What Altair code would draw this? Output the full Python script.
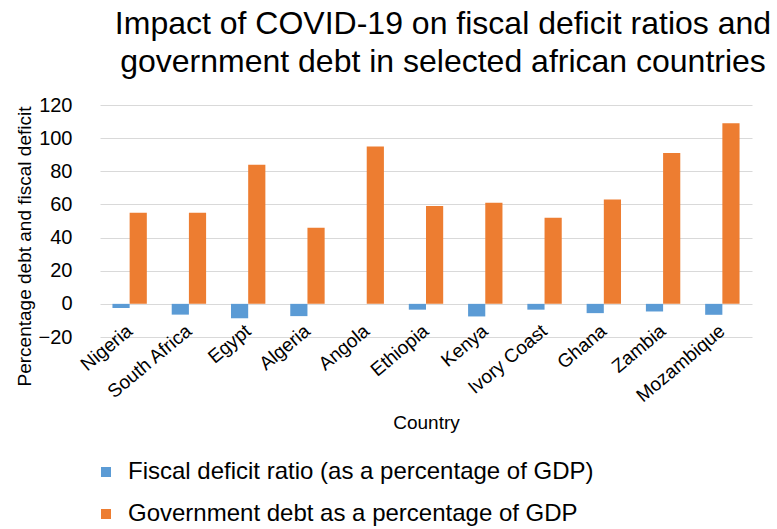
import altair as alt
import pandas as pd

countries = ["Nigeria", "South Africa", "Egypt", "Algeria", "Angola", "Ethiopia",
             "Kenya", "Ivory Coast", "Ghana", "Zambia", "Mozambique"]
fiscal_deficit = [-2.5, -6.5, -8.7, -7.4, 0, -3.5, -7.6, -3.5, -5.6, -4.6, -6.6]
government_debt = [55, 55, 84, 46, 95, 59, 61, 52, 63, 91, 109]

series_names = ["Fiscal deficit ratio (as a percentage of GDP)",
                "Government debt as a percentage of GDP"]
colors = ["#5B9BD5", "#ED7D31"]

rows = []
for i, c in enumerate(countries):
    rows.append({"Country": c, "Series": series_names[0], "Value": fiscal_deficit[i]})
    rows.append({"Country": c, "Series": series_names[1], "Value": government_debt[i]})
df = pd.DataFrame(rows)

font = "Liberation Sans"

chart = alt.Chart(df).mark_bar().encode(
    x=alt.X("Country:N", sort=countries,
            scale=alt.Scale(paddingInner=0.42, paddingOuter=0.21),
            axis=alt.Axis(title="Country", labelAngle=-40, labelFontSize=19,
                          labelFont=font, titleFont=font, titleFontSize=19,
                          titleFontWeight="normal", titleColor="#000", labelColor="#000",
                          ticks=False, domain=False, labelPadding=-9, labelBaseline="middle",
                          labelAlign="right", titleY=76)),
    xOffset=alt.XOffset("Series:N", sort=series_names),
    y=alt.Y("Value:Q", scale=alt.Scale(domain=[-20, 120], nice=False),
            axis=alt.Axis(title="Percentage debt and fiscal deficit", values=list(range(-20, 121, 20)),
                          labelFontSize=20, labelFont=font, labelColor="#000",
                          titleFont=font, titleFontSize=19, titleFontWeight="normal",
                          titleColor="#000", ticks=False, domain=False, labelPadding=28,
                          gridColor="#d9d9d9", titleX=-66, titleY=141)),
    color=alt.Color("Series:N", sort=series_names,
                    scale=alt.Scale(domain=series_names, range=colors),
                    legend=alt.Legend(title=None, orient="none", legendX=-6, legendY=355,
                                      direction="vertical", symbolType="square",
                                      symbolSize=100, labelFontSize=24, labelFont=font,
                                      labelColor="#000", rowPadding=18, labelOffset=10,
                                      labelLimit=0)),
).properties(
    width=652, height=232,
    title=alt.TitleParams(text=["Impact of COVID-19 on fiscal deficit ratios and",
                                "government debt in selected african countries"],
                          fontSize=32, font=font, fontWeight="normal", color="#000",
                          anchor="middle", offset=16, lineHeight=38, dx=17)
).configure_view(stroke=None).properties(
    autosize=alt.AutoSizeParams(type="none"),
    padding={"left": 100, "top": 105, "right": 25, "bottom": 192}
)

chart.save("out.html", embed_options={"renderer": "svg", "actions": False})
